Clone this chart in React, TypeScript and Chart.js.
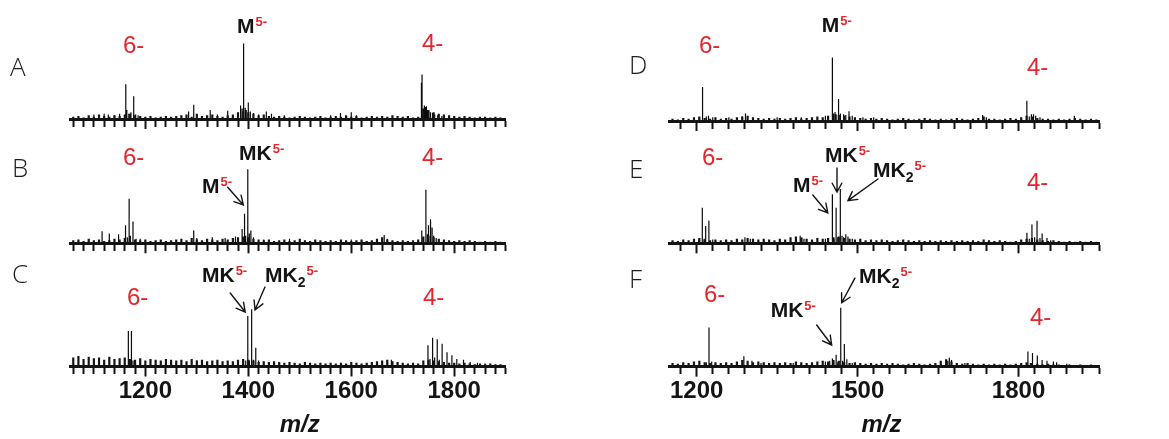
import React, { useEffect, useRef } from 'react';
import { Chart, registerables } from 'chart.js';

Chart.register(...registerables);

// ---------------- axes ----------------
const LEFT_MZ_RANGE = [1055, 1900];
const RIGHT_MZ_RANGE = [1149, 1950];
const LEFT_TICK_LABELS = [1200, 1400, 1600, 1800];
const RIGHT_TICK_LABELS = [1200, 1500, 1800];
const LEFT_MINOR_STEP = 20;
const RIGHT_MINOR_STEP = 30;
const INTENSITY_MAX = 110;

// ---------------- baseline noise (relative intensity, one value every 10 m/z) ----------------
const NOISE_STEP = 10;
const LEFT_NOISE_START = 1060;
const RIGHT_NOISE_START = 1155;

const NOISE_A = [
  3, 4, 2, 5, 3, 6, 4, 3, 5, 4,
  6, 7, 5, 4, 3, 4, 2, 3, 4, 3,
  4, 5, 6, 3, 7, 4, 5, 6, 4, 3,
  5, 6, 9, 10, 9, 7, 5, 6, 4, 3,
  4, 3, 2, 3, 4, 3, 2, 3, 4, 2,
  3, 4, 3, 5, 3, 4, 2, 3, 4, 3,
  4, 3, 5, 4, 3, 4, 2, 3, 10, 12,
  9, 7, 6, 5, 4, 3, 4, 3, 2, 3,
  3, 2, 3, 2,
];
const NOISE_B = [
  4, 5, 3, 6, 4, 5, 3, 4, 6, 5,
  7, 6, 5, 4, 5, 3, 4, 5, 3, 4,
  5, 6, 4, 7, 5, 4, 6, 5, 4, 6,
  5, 7, 8, 9, 8, 6, 5, 4, 5, 3,
  4, 5, 3, 4, 6, 4, 3, 5, 4, 3,
  4, 3, 5, 4, 3, 4, 5, 3, 4, 6,
  8, 5, 4, 3, 4, 3, 4, 5, 9, 10,
  8, 6, 5, 4, 3, 4, 3, 4, 3, 2,
  3, 2, 3, 2,
];
const NOISE_C = [
  12, 14, 10, 13, 11, 12, 9, 13, 10, 11,
  12, 10, 9, 11, 8, 10, 9, 8, 10, 9,
  8, 9, 7, 10, 8, 9, 7, 8, 9, 7,
  8, 7, 9, 10, 9, 8, 6, 7, 6, 7,
  6, 5, 6, 5, 4, 6, 5, 4, 5, 4,
  5, 4, 5, 4, 6, 5, 4, 5, 6, 7,
  8, 9, 7, 6, 5, 4, 5, 4, 8, 9,
  8, 7, 6, 5, 5, 4, 5, 4, 3, 4,
  3, 4, 3, 3,
];
const NOISE_D = [
  3, 2, 4, 3, 5, 6, 4, 3, 5, 3,
  4, 3, 5, 6, 7, 5, 4, 3, 4, 3,
  4, 3, 4, 5, 3, 4, 5, 6, 5, 7,
  9, 8, 7, 6, 5, 4, 3, 4, 3, 4,
  3, 2, 3, 4, 3, 2, 3, 4, 3, 2,
  3, 2, 3, 4, 3, 2, 3, 4, 6, 3,
  3, 2, 3, 4, 3, 5, 7, 6, 4, 3,
  3, 2, 3, 2, 3, 4, 3, 2, 3, 2,
];
const NOISE_E = [
  4, 3, 5, 4, 6, 7, 5, 4, 5, 4,
  5, 4, 6, 5, 7, 6, 5, 6, 5, 4,
  6, 5, 8, 9, 7, 6, 5, 7, 6, 7,
  8, 9, 7, 6, 5, 6, 4, 5, 4, 5,
  4, 3, 4, 5, 4, 3, 4, 3, 4, 3,
  4, 3, 4, 3, 4, 3, 4, 3, 5, 4,
  3, 4, 3, 2, 3, 5, 6, 7, 5, 4,
  3, 4, 3, 2, 3, 2, 3, 2, 3, 2,
];
const NOISE_F = [
  5, 4, 6, 5, 7, 8, 6, 5, 6, 5,
  6, 5, 7, 9, 8, 6, 7, 6, 5, 6,
  5, 6, 5, 7, 6, 5, 6, 7, 8, 7,
  9, 8, 6, 5, 6, 5, 4, 5, 4, 5,
  4, 5, 4, 3, 4, 5, 4, 3, 4, 5,
  8, 10, 7, 5, 4, 5, 4, 3, 4, 3,
  4, 3, 4, 3, 4, 5, 6, 5, 4, 3,
  4, 3, 3, 2, 3, 2, 3, 2, 3, 2,
];

// ---------------- peaks [m/z, relative intensity] ----------------
const PEAKS_A = [
  [1100, 6], [1120, 7], [1128, 6], [1140, 5], [1150, 7], [1162, 46], [1164, 12], [1168, 7], [1172, 9],
  [1177.4, 30], [1181, 6], [1186, 5], [1284, 10], [1294, 19], [1326, 12], [1340, 6], [1360, 11],
  [1385, 18], [1388, 14], [1390, 100], [1391.5, 51], [1394, 15], [1396, 12], [1400, 22], [1404, 10],
  [1410, 8], [1420, 6], [1435, 10], [1445, 7], [1470, 5], [1560, 5], [1579, 8], [1600, 9], [1610, 5],
  [1736.3, 48], [1737.5, 59], [1740, 14], [1742, 18], [1744, 16], [1746, 17], [1748, 12], [1750, 10],
  [1754, 9], [1758, 8], [1762, 6], [1768, 5], [1776, 4],
];
const PEAKS_B = [
  [1116, 16], [1130, 13], [1148, 12], [1161.5, 24], [1165, 8], [1168.5, 59], [1171, 10], [1176, 29],
  [1182, 6], [1190, 6], [1294, 17], [1300, 7], [1330, 8], [1355, 7], [1375, 9], [1388, 19],
  [1392.7, 39], [1395, 10], [1399, 98], [1402, 13], [1405, 17], [1410, 8], [1430, 5], [1480, 6],
  [1600, 5], [1664, 11], [1670, 6], [1737, 17], [1740, 8], [1745, 71], [1748, 12], [1750, 24],
  [1754, 32], [1757, 21], [1760, 10], [1765, 7], [1770, 5], [1780, 4],
];
const PEAKS_C = [
  [1167, 47], [1170, 9], [1173, 47], [1176, 8], [1300, 8], [1340, 7], [1395, 8], [1399, 67], [1402, 8],
  [1406.5, 76], [1410, 9], [1414.5, 25], [1420, 8], [1670, 8], [1678, 9], [1749, 28], [1753, 10],
  [1758, 38], [1762, 12], [1767, 36], [1771, 9], [1776.5, 30], [1786, 19], [1795.5, 15], [1805, 10],
  [1818, 9], [1831, 6], [1845, 5], [1860, 4],
];
const PEAKS_D = [
  [1205, 5], [1211, 45], [1218, 6], [1222, 7], [1230, 5], [1260, 5], [1285, 6], [1291, 10], [1350, 5],
  [1395, 5], [1440, 7], [1453, 84], [1455, 10], [1458, 12], [1460, 9], [1464.5, 29], [1468, 10],
  [1474, 9], [1478, 8], [1484, 13], [1490, 7], [1510, 5], [1530, 5], [1733, 8], [1740, 5],
  [1815.5, 27], [1820, 6], [1824, 9], [1828, 9], [1832, 7], [1840, 5], [1904, 7],
];
const PEAKS_E = [
  [1204, 5], [1210.5, 47], [1214, 6], [1216.8, 23], [1222.8, 30], [1230, 5], [1290, 8], [1300, 6],
  [1393, 10], [1396, 8], [1400, 6], [1440, 6], [1453, 65], [1456, 6], [1460, 47], [1463, 8],
  [1467.8, 72], [1471, 10], [1474, 8], [1478, 12], [1482, 9], [1490, 6], [1815.6, 14], [1820, 6],
  [1825, 25], [1830, 8], [1834.5, 30], [1840, 7], [1844, 13], [1853, 7], [1860, 4],
];
const PEAKS_F = [
  [1215, 5], [1218, 6], [1223, 52], [1228, 7], [1288, 14], [1303, 8], [1320, 5], [1380, 5], [1440, 7],
  [1448, 8], [1453, 11], [1460, 16], [1463, 6], [1468.6, 78], [1472, 8], [1475.3, 30], [1480, 10],
  [1490, 5], [1668, 8], [1671, 12], [1675, 9], [1700, 5], [1817.5, 20], [1822, 5], [1826, 18],
  [1835, 15], [1844, 9], [1853, 8], [1865, 7], [1871, 6], [1890, 4],
];

// ---------------- annotations (x in m/z, y in intensity units) ----------------
type Run = [string, string];
type Note = { x: number; y: number; runs: Run[]; center?: boolean };
type Arrow = [number, number, number, number];

const NOTES_A: Note[] = [
  { x: 937, y: 58, runs: [['A', 'panel']] },
  { x: 1156.6, y: 87.5, runs: [['6-', 'charge']] },
  { x: 1378, y: 114, runs: [['M', 'main'], ['5-', 'sup']] },
  { x: 1737.4, y: 90, runs: [['4-', 'charge']] },
];
const ARROWS_A: Arrow[] = [];

const NOTES_B: Note[] = [
  { x: 941, y: 89.2, runs: [['B', 'panel']] },
  { x: 1156.6, y: 103.8, runs: [['6-', 'charge']] },
  { x: 1382, y: 110.4, runs: [['MK', 'main'], ['5-', 'sup']] },
  { x: 1310, y: 66.7, runs: [['M', 'main'], ['5-', 'sup']] },
  { x: 1737.4, y: 103.8, runs: [['4-', 'charge']] },
];
const ARROWS_B: Arrow[] = [[1360, 74.2, 1390.3, 50.8]];

const NOTES_C: Note[] = [
  { x: 941, y: 112, runs: [['C', 'panel']] },
  { x: 1310, y: 112, runs: [['MK', 'main'], ['5-', 'sup']] },
  { x: 1432.4, y: 112, runs: [['MK', 'main'], ['2', 'sub'], ['5-', 'sup']] },
  { x: 1164.4, y: 81.5, runs: [['6-', 'charge']] },
  { x: 1739.3, y: 81.5, runs: [['4-', 'charge']] },
  { x: 1500, y: -86.8, runs: [['m/z', 'axis']], center: true },
];
const ARROWS_C: Arrow[] = [
  [1364.8, 97.4, 1394, 72.2],
  [1432.4, 105.3, 1413, 74.9],
];

const NOTES_D: Note[] = [
  { x: 1073.9, y: 64, runs: [['D', 'panel']] },
  { x: 1204.4, y: 90.1, runs: [['6-', 'charge']] },
  { x: 1433, y: 118.4, runs: [['M', 'main'], ['5-', 'sup']] },
  { x: 1815.7, y: 61, runs: [['4-', 'charge']] },
];
const ARROWS_D: Arrow[] = [];

const NOTES_E: Note[] = [
  { x: 1073.9, y: 88.3, runs: [['E', 'panel']] },
  { x: 1210, y: 103.8, runs: [['6-', 'charge']] },
  { x: 1439.2, y: 108.2, runs: [['MK', 'main'], ['5-', 'sup']] },
  { x: 1528.7, y: 88.3, runs: [['MK', 'main'], ['2', 'sub'], ['5-', 'sup']] },
  { x: 1379.6, y: 68.4, runs: [['M', 'main'], ['5-', 'sup']] },
  { x: 1815.7, y: 70.6, runs: [['4-', 'charge']] },
];
const ARROWS_E: Arrow[] = [
  [1461.6, 99.8, 1461.6, 68],
  [1538, 85.2, 1482, 56.5],
  [1416.5, 64, 1444.5, 40.2],
];

const NOTES_F: Note[] = [
  { x: 1073.9, y: 105.6, runs: [['F', 'panel']] },
  { x: 1502.6, y: 110.9, runs: [['MK', 'main'], ['2', 'sub'], ['5-', 'sup']] },
  { x: 1213.7, y: 86.1, runs: [['6-', 'charge']] },
  { x: 1338, y: 66.3, runs: [['MK', 'main'], ['5-', 'sup']] },
  { x: 1821.3, y: 55.3, runs: [['4-', 'charge']] },
  { x: 1544.5, y: -87, runs: [['m/z', 'axis']], center: true },
];
const ARROWS_F: Arrow[] = [
  [1495, 117.4, 1470.3, 84.8],
  [1423.7, 55.3, 1451.7, 28.8],
];

// ---------------- styling ----------------
const FONT = '"Liberation Sans", Arial, sans-serif';
const RED = '#e5262c';
const INK = '#141414';
const STYLES: Record<string, { font: string; color: string; dx: number; dy: number }> = {
  main: { font: `bold 21px ${FONT}`, color: INK, dx: 0, dy: 0 },
  sup: { font: `bold 13px ${FONT}`, color: RED, dx: 1, dy: -7 },
  sub: { font: `bold 14px ${FONT}`, color: INK, dx: 0, dy: 5 },
  charge: { font: `24px ${FONT}`, color: RED, dx: 0, dy: 0 },
  panel: { font: `300 26px "Open Sans", ${FONT}`, color: '#1e1e1e', dx: 0, dy: 1 },
  axis: { font: `italic bold 24px ${FONT}`, color: INK, dx: 0, dy: 0 },
};

function makeNotesPlugin(notes: Note[], arrows: Arrow[]) {
  return {
    id: 'notes',
    afterDraw(chart: any) {
      const { ctx } = chart;
      const xs = chart.scales.x;
      const ys = chart.scales.y;
      ctx.save();
      ctx.textBaseline = 'alphabetic';
      ctx.textAlign = 'left';
      for (const n of notes) {
        let px = xs.getPixelForValue(n.x);
        const py = ys.getPixelForValue(n.y);
        if (n.center) {
          let w = 0;
          for (const [t, s] of n.runs) {
            ctx.font = STYLES[s].font;
            w += ctx.measureText(t).width + STYLES[s].dx;
          }
          px -= w / 2;
        }
        for (const [t, s] of n.runs) {
          const st = STYLES[s];
          ctx.font = st.font;
          ctx.fillStyle = st.color;
          ctx.fillText(t, px + st.dx, py + st.dy);
          px += ctx.measureText(t).width + st.dx;
        }
      }
      ctx.strokeStyle = INK;
      ctx.lineWidth = 1.4;
      ctx.lineCap = 'round';
      for (const a of arrows) {
        const x1 = xs.getPixelForValue(a[0]);
        const y1 = ys.getPixelForValue(a[1]);
        const x2 = xs.getPixelForValue(a[2]);
        const y2 = ys.getPixelForValue(a[3]);
        const ang = Math.atan2(y2 - y1, x2 - x1);
        const L = 10;
        const sp = 0.5;
        ctx.beginPath();
        ctx.moveTo(x1, y1);
        ctx.lineTo(x2, y2);
        ctx.moveTo(x2 - L * Math.cos(ang - sp), y2 - L * Math.sin(ang - sp));
        ctx.lineTo(x2, y2);
        ctx.lineTo(x2 - L * Math.cos(ang + sp), y2 - L * Math.sin(ang + sp));
        ctx.stroke();
      }
      ctx.restore();
    },
  };
}

interface PanelProps {
  left: number;
  top: number;
  width: number;
  height: number;
  axisY: number;
  plotLeft: number;
  plotRight: number;
  range: number[];
  step: number;
  tickLabels: number[];
  showLabels: boolean;
  peaks: number[][];
  noise: number[];
  noiseStart: number;
  notes: Note[];
  arrows: Arrow[];
}

const PLOT_H = 83;

function toSticks(list: number[][]) {
  const sorted = [...list].sort((a, b) => a[0] - b[0]);
  const out: { x: number; y: number }[] = [];
  for (const [m, h] of sorted) out.push({ x: m, y: 0 }, { x: m, y: h }, { x: m, y: 0 });
  return out;
}

function Panel(p: PanelProps) {
  const ref = useRef<HTMLCanvasElement>(null);
  useEffect(() => {
    const peakData = toSticks(p.peaks);
    const noiseData = toSticks(p.noise.map((h, i) => [p.noiseStart + i * NOISE_STEP, h]));
    const padTop = p.axisY - p.top - PLOT_H;
    const scaleH = p.top + p.height - p.axisY;
    const chart = new Chart(ref.current as HTMLCanvasElement, {
      type: 'line',
      data: {
        datasets: [
          {
            data: noiseData,
            borderColor: '#151515',
            borderWidth: 2.2,
            pointRadius: 0,
            tension: 0,
            fill: false,
            borderJoinStyle: 'bevel',
          } as any,
          {
            data: peakData,
            borderColor: '#0a0a0a',
            borderWidth: 1.2,
            pointRadius: 0,
            tension: 0,
            fill: false,
            borderJoinStyle: 'bevel',
          } as any,
        ],
      },
      options: {
        responsive: false,
        maintainAspectRatio: false,
        animation: false,
        events: [],
        layout: {
          padding: {
            left: p.plotLeft - p.left,
            right: p.left + p.width - p.plotRight,
            top: padTop,
            bottom: 0,
          },
        },
        plugins: {
          legend: { display: false },
          tooltip: { enabled: false },
        },
        scales: {
          x: {
            type: 'linear',
            min: p.range[0],
            max: p.range[1],
            afterFit: (s: any) => {
              s.height = scaleH;
            },
            ticks: {
              stepSize: p.step,
              includeBounds: false,
              autoSkip: false,
              maxRotation: 0,
              padding: 0,
              color: INK,
              font: { family: FONT, size: 24, weight: 'bold' },
              callback: (v: any) => (p.showLabels && p.tickLabels.includes(Number(v)) ? String(v) : ''),
            },
            grid: {
              drawOnChartArea: false,
              drawTicks: true,
              tickLength: 10,
              tickWidth: 2,
              tickColor: INK,
              tickBorderDash: (c: any) =>
                c.tick && p.tickLabels.includes(c.tick.value) ? [] : [6, 20],
            },
            border: { display: true, width: 3, color: INK },
          } as any,
          y: { display: false, min: 0, max: INTENSITY_MAX },
        },
      },
      plugins: [makeNotesPlugin(p.notes, p.arrows)],
    });
    return () => chart.destroy();
  }, []);
  return (
    <canvas
      ref={ref}
      width={p.width}
      height={p.height}
      style={{ position: 'absolute', left: p.left, top: p.top, width: p.width, height: p.height }}
    />
  );
}

const LEFT_COL = { left: 0, width: 580, plotLeft: 70.7, plotRight: 505.7, range: LEFT_MZ_RANGE, step: LEFT_MINOR_STEP, tickLabels: LEFT_TICK_LABELS, noiseStart: LEFT_NOISE_START };
const RIGHT_COL = { left: 580, width: 589, plotLeft: 669.3, plotRight: 1099, range: RIGHT_MZ_RANGE, step: RIGHT_MINOR_STEP, tickLabels: RIGHT_TICK_LABELS, noiseStart: RIGHT_NOISE_START };

export default function App() {
  return (
    <div style={{ position: 'absolute', left: 0, top: 0, width: 1169, height: 439, background: '#fff', overflow: 'hidden' }}>
      <Panel {...LEFT_COL} top={0} height={140} axisY={119} showLabels={false} peaks={PEAKS_A} noise={NOISE_A} notes={NOTES_A} arrows={ARROWS_A} />
      <Panel {...LEFT_COL} top={125} height={140} axisY={243.3} showLabels={false} peaks={PEAKS_B} noise={NOISE_B} notes={NOTES_B} arrows={ARROWS_B} />
      <Panel {...LEFT_COL} top={250} height={189} axisY={366.5} showLabels={true} peaks={PEAKS_C} noise={NOISE_C} notes={NOTES_C} arrows={ARROWS_C} />
      <Panel {...RIGHT_COL} top={0} height={140} axisY={121} showLabels={false} peaks={PEAKS_D} noise={NOISE_D} notes={NOTES_D} arrows={ARROWS_D} />
      <Panel {...RIGHT_COL} top={125} height={140} axisY={243.3} showLabels={false} peaks={PEAKS_E} noise={NOISE_E} notes={NOTES_E} arrows={ARROWS_E} />
      <Panel {...RIGHT_COL} top={250} height={189} axisY={366.7} showLabels={true} peaks={PEAKS_F} noise={NOISE_F} notes={NOTES_F} arrows={ARROWS_F} />
    </div>
  );
}
